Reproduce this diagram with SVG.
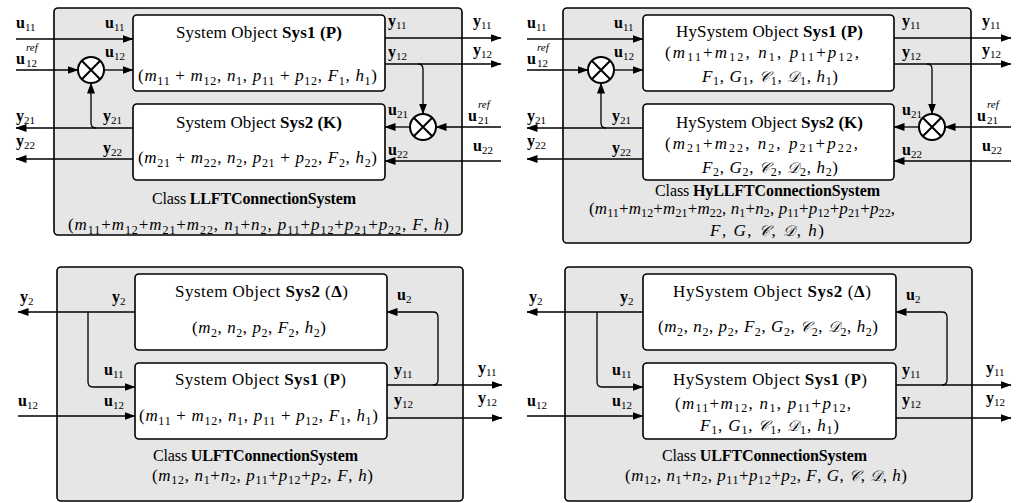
<svg xmlns="http://www.w3.org/2000/svg" width="1019" height="503" viewBox="0 0 1019 503">
<style>
.frame{fill:#e6e6e6;stroke:#000;stroke-width:1.6}
.box{fill:#fff;stroke:#000;stroke-width:1.6}
.ln{fill:none;stroke:#000;stroke-width:1.3}
.arr{marker-end:url(#ah)}
.sum circle{fill:#fff;stroke:#000;stroke-width:2}
.sum path{stroke:#000;stroke-width:2;fill:none}
text{font-family:"Liberation Serif","DejaVu Serif",serif;fill:#000}
.v{font-weight:bold;font-size:16px}
.ls{font-weight:normal;font-size:11px}
.sup{font-style:italic;font-size:11px}
.t{font-size:17px}
.c{font-size:16px}
.b{font-weight:bold}
.f{font-style:italic;font-size:17px}
.r{font-style:normal}
.sb{font-style:normal;font-size:12px}
.cal{font-family:"DejaVu Serif","DejaVu Sans","Liberation Serif",serif;font-size:15px}
</style>
<defs>
<marker id="ah" markerWidth="11" markerHeight="8" refX="10.5" refY="4" orient="auto" markerUnits="userSpaceOnUse"><path d="M0,0 L11,4 L0,8 z" fill="#000"/></marker>
</defs>

<!-- ============ Q1: LLFTConnectionSystem ============ -->
<g id="llft">
<rect class="frame" x="54" y="8" width="408" height="227" rx="4"/>
<text class="c" x="152" y="204" textLength="204" lengthAdjust="spacing">Class <tspan class="b">LLFTConnectionSystem</tspan></text>
<text class="f" x="68" y="230" textLength="381" lengthAdjust="spacing"><tspan class="r">(</tspan>m<tspan class="sb" dy="4">11</tspan><tspan class="r" dy="-4">+</tspan>m<tspan class="sb" dy="4">12</tspan><tspan class="r" dy="-4">+</tspan>m<tspan class="sb" dy="4">21</tspan><tspan class="r" dy="-4">+</tspan>m<tspan class="sb" dy="4">22</tspan><tspan class="r" dy="-4">, </tspan>n<tspan class="sb" dy="4">1</tspan><tspan class="r" dy="-4">+</tspan>n<tspan class="sb" dy="4">2</tspan><tspan class="r" dy="-4">, </tspan>p<tspan class="sb" dy="4">11</tspan><tspan class="r" dy="-4">+</tspan>p<tspan class="sb" dy="4">12</tspan><tspan class="r" dy="-4">+</tspan>p<tspan class="sb" dy="4">21</tspan><tspan class="r" dy="-4">+</tspan>p<tspan class="sb" dy="4">22</tspan><tspan class="r" dy="-4">, </tspan>F<tspan class="r">, </tspan>h<tspan class="r">)</tspan></text>
</g>
<g id="llft-sys1">
<rect class="box" x="133" y="15" width="252" height="76" rx="4"/>
<text class="t" x="176" y="38" textLength="166" lengthAdjust="spacing">System Object <tspan class="b">Sys1 (P)</tspan></text>
<text class="f" x="138" y="81" textLength="239" lengthAdjust="spacing"><tspan class="r">(</tspan>m<tspan class="sb" dy="4">11</tspan><tspan class="r" dy="-4"> + </tspan>m<tspan class="sb" dy="4">12</tspan><tspan class="r" dy="-4">, </tspan>n<tspan class="sb" dy="4">1</tspan><tspan class="r" dy="-4">, </tspan>p<tspan class="sb" dy="4">11</tspan><tspan class="r" dy="-4"> + </tspan>p<tspan class="sb" dy="4">12</tspan><tspan class="r" dy="-4">, </tspan>F<tspan class="sb" dy="4">1</tspan><tspan class="r" dy="-4">, </tspan>h<tspan class="sb" dy="4">1</tspan><tspan class="r" dy="-4">)</tspan></text>
</g>
<g id="llft-sys2">
<rect class="box" x="133" y="104" width="252" height="76" rx="4"/>
<text class="t" x="176" y="128" textLength="166" lengthAdjust="spacing">System Object <tspan class="b">Sys2 (K)</tspan></text>
<text class="f" x="138" y="163" textLength="239" lengthAdjust="spacing"><tspan class="r">(</tspan>m<tspan class="sb" dy="4">21</tspan><tspan class="r" dy="-4"> + </tspan>m<tspan class="sb" dy="4">22</tspan><tspan class="r" dy="-4">, </tspan>n<tspan class="sb" dy="4">2</tspan><tspan class="r" dy="-4">, </tspan>p<tspan class="sb" dy="4">21</tspan><tspan class="r" dy="-4"> + </tspan>p<tspan class="sb" dy="4">22</tspan><tspan class="r" dy="-4">, </tspan>F<tspan class="sb" dy="4">2</tspan><tspan class="r" dy="-4">, </tspan>h<tspan class="sb" dy="4">2</tspan><tspan class="r" dy="-4">)</tspan></text>
</g>
<g id="llft-sum1" class="sum"><circle cx="91" cy="70" r="13"/><path d="M81.8,60.8 L100.2,79.2 M100.2,60.8 L81.8,79.2"/></g>
<g id="llft-sum2" class="sum"><circle cx="423" cy="127" r="13"/><path d="M413.8,117.8 L432.2,136.2 M432.2,117.8 L413.8,136.2"/></g>

<!-- ============ Q2: HyLLFTConnectionSystem ============ -->
<g id="hyllft">
<rect class="frame" x="563" y="8" width="408" height="235" rx="4"/>
<text class="c" x="655" y="196" textLength="225" lengthAdjust="spacing">Class <tspan class="b">HyLLFTConnectionSystem</tspan></text>
<text class="f" x="589" y="214" textLength="306" lengthAdjust="spacing"><tspan class="r">(</tspan>m<tspan class="sb" dy="3">11</tspan><tspan class="r" dy="-3">+</tspan>m<tspan class="sb" dy="3">12</tspan><tspan class="r" dy="-3">+</tspan>m<tspan class="sb" dy="3">21</tspan><tspan class="r" dy="-3">+</tspan>m<tspan class="sb" dy="3">22</tspan><tspan class="r" dy="-3">, </tspan>n<tspan class="sb" dy="3">1</tspan><tspan class="r" dy="-3">+</tspan>n<tspan class="sb" dy="3">2</tspan><tspan class="r" dy="-3">, </tspan>p<tspan class="sb" dy="3">11</tspan><tspan class="r" dy="-3">+</tspan>p<tspan class="sb" dy="3">12</tspan><tspan class="r" dy="-3">+</tspan>p<tspan class="sb" dy="3">21</tspan><tspan class="r" dy="-3">+</tspan>p<tspan class="sb" dy="3">22</tspan><tspan class="r" dy="-3">,</tspan></text>
<text class="f" x="710" y="236" textLength="114" lengthAdjust="spacing">F<tspan class="r">, </tspan>G<tspan class="r">, </tspan><tspan class="cal">𝒞</tspan><tspan class="r">, </tspan><tspan class="cal">𝒟</tspan><tspan class="r">, </tspan>h<tspan class="r">)</tspan></text>
</g>
<g id="hyllft-sys1">
<rect class="box" x="643" y="15" width="251" height="76" rx="4"/>
<text class="t" x="676" y="37" textLength="187" lengthAdjust="spacing">HySystem Object <tspan class="b">Sys1 (P)</tspan></text>
<text class="f" x="665" y="58" textLength="194" lengthAdjust="spacing"><tspan class="r">(</tspan>m<tspan class="sb" dy="3">11</tspan><tspan class="r" dy="-3">+</tspan>m<tspan class="sb" dy="3">12</tspan><tspan class="r" dy="-3">, </tspan>n<tspan class="sb" dy="3">1</tspan><tspan class="r" dy="-3">, </tspan>p<tspan class="sb" dy="3">11</tspan><tspan class="r" dy="-3">+</tspan>p<tspan class="sb" dy="3">12</tspan><tspan class="r" dy="-3">,</tspan></text>
<text class="f" x="702" y="82" textLength="136" lengthAdjust="spacing">F<tspan class="sb" dy="3">1</tspan><tspan class="r" dy="-3">, </tspan>G<tspan class="sb" dy="3">1</tspan><tspan class="r" dy="-3">, </tspan><tspan class="cal">𝒞</tspan><tspan class="sb" dy="3">1</tspan><tspan class="r" dy="-3">, </tspan><tspan class="cal">𝒟</tspan><tspan class="sb" dy="3">1</tspan><tspan class="r" dy="-3">, </tspan>h<tspan class="sb" dy="3">1</tspan><tspan class="r" dy="-3">)</tspan></text>
</g>
<g id="hyllft-sys2">
<rect class="box" x="643" y="104" width="251" height="76" rx="4"/>
<text class="t" x="676" y="128" textLength="187" lengthAdjust="spacing">HySystem Object <tspan class="b">Sys2 (K)</tspan></text>
<text class="f" x="665" y="149" textLength="193" lengthAdjust="spacing"><tspan class="r">(</tspan>m<tspan class="sb" dy="3">21</tspan><tspan class="r" dy="-3">+</tspan>m<tspan class="sb" dy="3">22</tspan><tspan class="r" dy="-3">, </tspan>n<tspan class="sb" dy="3">2</tspan><tspan class="r" dy="-3">, </tspan>p<tspan class="sb" dy="3">21</tspan><tspan class="r" dy="-3">+</tspan>p<tspan class="sb" dy="3">22</tspan><tspan class="r" dy="-3">,</tspan></text>
<text class="f" x="702" y="173" textLength="136" lengthAdjust="spacing">F<tspan class="sb" dy="3">2</tspan><tspan class="r" dy="-3">, </tspan>G<tspan class="sb" dy="3">2</tspan><tspan class="r" dy="-3">, </tspan><tspan class="cal">𝒞</tspan><tspan class="sb" dy="3">2</tspan><tspan class="r" dy="-3">, </tspan><tspan class="cal">𝒟</tspan><tspan class="sb" dy="3">2</tspan><tspan class="r" dy="-3">, </tspan>h<tspan class="sb" dy="3">2</tspan><tspan class="r" dy="-3">)</tspan></text>
</g>
<g id="hyllft-sum1" class="sum"><circle cx="601" cy="70" r="13"/><path d="M591.8,60.8 L610.2,79.2 M610.2,60.8 L591.8,79.2"/></g>
<g id="hyllft-sum2" class="sum"><circle cx="932" cy="127" r="13"/><path d="M922.8,117.8 L941.2,136.2 M941.2,117.8 L922.8,136.2"/></g>

<!-- ============ Q3: ULFTConnectionSystem ============ -->
<g id="ulft">
<rect class="frame" x="57" y="267" width="406" height="234" rx="4"/>
<text class="c" x="153" y="461" textLength="205" lengthAdjust="spacing">Class <tspan class="b">ULFTConnectionSystem</tspan></text>
<text class="f" x="152" y="481" textLength="221" lengthAdjust="spacing"><tspan class="r">(</tspan>m<tspan class="sb" dy="3">12</tspan><tspan class="r" dy="-3">, </tspan>n<tspan class="sb" dy="3">1</tspan><tspan class="r" dy="-3">+</tspan>n<tspan class="sb" dy="3">2</tspan><tspan class="r" dy="-3">, </tspan>p<tspan class="sb" dy="3">11</tspan><tspan class="r" dy="-3">+</tspan>p<tspan class="sb" dy="3">12</tspan><tspan class="r" dy="-3">+</tspan>p<tspan class="sb" dy="3">2</tspan><tspan class="r" dy="-3">, </tspan>F<tspan class="r">, </tspan>h<tspan class="r">)</tspan></text>
</g>
<g id="ulft-sys2">
<rect class="box" x="135" y="274" width="252" height="76" rx="4"/>
<text class="t" x="175" y="297" textLength="173" lengthAdjust="spacing">System Object <tspan class="b">Sys2</tspan>  (<tspan class="b">Δ</tspan>)</text>
<text class="f" x="192" y="333" textLength="134" lengthAdjust="spacing"><tspan class="r">(</tspan>m<tspan class="sb" dy="4">2</tspan><tspan class="r" dy="-4">, </tspan>n<tspan class="sb" dy="4">2</tspan><tspan class="r" dy="-4">, </tspan>p<tspan class="sb" dy="4">2</tspan><tspan class="r" dy="-4">, </tspan>F<tspan class="sb" dy="4">2</tspan><tspan class="r" dy="-4">, </tspan>h<tspan class="sb" dy="4">2</tspan><tspan class="r" dy="-4">)</tspan></text>
</g>
<g id="ulft-sys1">
<rect class="box" x="135" y="363" width="252" height="76" rx="4"/>
<text class="t" x="175" y="385" textLength="171" lengthAdjust="spacing">System Object <tspan class="b">Sys1</tspan>  (<tspan class="b">P</tspan>)</text>
<text class="f" x="139" y="421" textLength="239" lengthAdjust="spacing"><tspan class="r">(</tspan>m<tspan class="sb" dy="4">11</tspan><tspan class="r" dy="-4"> + </tspan>m<tspan class="sb" dy="4">12</tspan><tspan class="r" dy="-4">, </tspan>n<tspan class="sb" dy="4">1</tspan><tspan class="r" dy="-4">, </tspan>p<tspan class="sb" dy="4">11</tspan><tspan class="r" dy="-4"> + </tspan>p<tspan class="sb" dy="4">12</tspan><tspan class="r" dy="-4">, </tspan>F<tspan class="sb" dy="4">1</tspan><tspan class="r" dy="-4">, </tspan>h<tspan class="sb" dy="4">1</tspan><tspan class="r" dy="-4">)</tspan></text>
</g>

<!-- ============ Q4: ULFTConnectionSystem (hybrid) ============ -->
<g id="hyulft">
<rect class="frame" x="565" y="267" width="407" height="234" rx="4"/>
<text class="c" x="662" y="461" textLength="205" lengthAdjust="spacing">Class <tspan class="b">ULFTConnectionSystem</tspan></text>
<text class="f" x="625" y="481" textLength="282" lengthAdjust="spacing"><tspan class="r">(</tspan>m<tspan class="sb" dy="3">12</tspan><tspan class="r" dy="-3">, </tspan>n<tspan class="sb" dy="3">1</tspan><tspan class="r" dy="-3">+</tspan>n<tspan class="sb" dy="3">2</tspan><tspan class="r" dy="-3">, </tspan>p<tspan class="sb" dy="3">11</tspan><tspan class="r" dy="-3">+</tspan>p<tspan class="sb" dy="3">12</tspan><tspan class="r" dy="-3">+</tspan>p<tspan class="sb" dy="3">2</tspan><tspan class="r" dy="-3">, </tspan>F<tspan class="r">, </tspan>G<tspan class="r">, </tspan><tspan class="cal">𝒞</tspan><tspan class="r">, </tspan><tspan class="cal">𝒟</tspan><tspan class="r">, </tspan>h<tspan class="r">)</tspan></text>
</g>
<g id="hyulft-sys2">
<rect class="box" x="643" y="274" width="253" height="76" rx="4"/>
<text class="t" x="673" y="297" textLength="198" lengthAdjust="spacing">HySystem Object <tspan class="b">Sys2</tspan>  (<tspan class="b">Δ</tspan>)</text>
<text class="f" x="658" y="332" textLength="220" lengthAdjust="spacing"><tspan class="r">(</tspan>m<tspan class="sb" dy="4">2</tspan><tspan class="r" dy="-4">, </tspan>n<tspan class="sb" dy="4">2</tspan><tspan class="r" dy="-4">, </tspan>p<tspan class="sb" dy="4">2</tspan><tspan class="r" dy="-4">, </tspan>F<tspan class="sb" dy="4">2</tspan><tspan class="r" dy="-4">, </tspan>G<tspan class="sb" dy="4">2</tspan><tspan class="r" dy="-4">, </tspan><tspan class="cal">𝒞</tspan><tspan class="sb" dy="4">2</tspan><tspan class="r" dy="-4">, </tspan><tspan class="cal">𝒟</tspan><tspan class="sb" dy="4">2</tspan><tspan class="r" dy="-4">, </tspan>h<tspan class="sb" dy="4">2</tspan><tspan class="r" dy="-4">)</tspan></text>
</g>
<g id="hyulft-sys1">
<rect class="box" x="643" y="363" width="253" height="76" rx="4"/>
<text class="t" x="673" y="385" textLength="194" lengthAdjust="spacing">HySystem Object <tspan class="b">Sys1</tspan>  (<tspan class="b">P</tspan>)</text>
<text class="f" x="675" y="409" textLength="176" lengthAdjust="spacing"><tspan class="r">(</tspan>m<tspan class="sb" dy="3">11</tspan><tspan class="r" dy="-3">+</tspan>m<tspan class="sb" dy="3">12</tspan><tspan class="r" dy="-3">, </tspan>n<tspan class="sb" dy="3">1</tspan><tspan class="r" dy="-3">, </tspan>p<tspan class="sb" dy="3">11</tspan><tspan class="r" dy="-3">+</tspan>p<tspan class="sb" dy="3">12</tspan><tspan class="r" dy="-3">,</tspan></text>
<text class="f" x="700" y="431" textLength="139" lengthAdjust="spacing">F<tspan class="sb" dy="3">1</tspan><tspan class="r" dy="-3">, </tspan>G<tspan class="sb" dy="3">1</tspan><tspan class="r" dy="-3">, </tspan><tspan class="cal">𝒞</tspan><tspan class="sb" dy="3">1</tspan><tspan class="r" dy="-3">, </tspan><tspan class="cal">𝒟</tspan><tspan class="sb" dy="3">1</tspan><tspan class="r" dy="-3">, </tspan>h<tspan class="sb" dy="3">1</tspan><tspan class="r" dy="-3">)</tspan></text>
</g>

<!-- ============ Connectors ============ -->
<g id="connectors">
<g class="ln">
<!-- Q1 -->
<path class="arr" d="M16 39 H133"/>
<path class="arr" d="M16 70 H78"/>
<path class="arr" d="M104 70 H133"/>
<path class="arr" d="M133 128 H16"/>
<path class="arr" d="M96 128 Q91 128 91 123 V83"/>
<path class="arr" d="M133 159 H16"/>
<path class="arr" d="M385 38 H501"/>
<path class="arr" d="M385 64 H501"/>
<path class="arr" d="M418 64 Q423 64 423 69 V114"/>
<path class="arr" d="M501 127 H436"/>
<path class="arr" d="M410 127 H385"/>
<path class="arr" d="M501 161 H385"/>
<!-- Q2 -->
<path class="arr" d="M527 39 H643"/>
<path class="arr" d="M527 70 H588"/>
<path class="arr" d="M614 70 H643"/>
<path class="arr" d="M643 128 H527"/>
<path class="arr" d="M606 128 Q601 128 601 123 V83"/>
<path class="arr" d="M643 159 H527"/>
<path class="arr" d="M894 38 H1011"/>
<path class="arr" d="M894 64 H1011"/>
<path class="arr" d="M927 64 Q932 64 932 69 V114"/>
<path class="arr" d="M1011 127 H945"/>
<path class="arr" d="M919 127 H894"/>
<path class="arr" d="M1011 161 H894"/>
<!-- Q3 -->
<path class="arr" d="M135 312 H18"/>
<path class="arr" d="M88 312 V382 Q88 387 93 387 H135"/>
<path class="arr" d="M18 416 H135"/>
<path class="arr" d="M387 385 H502"/>
<path class="arr" d="M433 385 Q438 385 438 380 V317 Q438 312 433 312 H387"/>
<path class="arr" d="M387 418 H502"/>
<!-- Q4 -->
<path class="arr" d="M643 312 H527"/>
<path class="arr" d="M597 312 V382 Q597 387 602 387 H643"/>
<path class="arr" d="M527 416 H643"/>
<path class="arr" d="M896 385 H1011"/>
<path class="arr" d="M942 385 Q947 385 947 380 V317 Q947 312 942 312 H896"/>
<path class="arr" d="M896 418 H1011"/>
</g>
<!-- labels Q1 -->
<text class="v" x="16" y="28">u<tspan class="ls" dy="3">11</tspan></text>
<text class="v" x="105" y="28">u<tspan class="ls" dy="3">11</tspan></text>
<text class="v" x="16" y="64">u</text><text class="sup" x="26" y="51">ref</text><text class="ls" x="26" y="67">12</text>
<text class="v" x="105" y="57">u<tspan class="ls" dy="3">12</tspan></text>
<text class="v" x="16" y="121">y<tspan class="ls" dy="3">21</tspan></text>
<text class="v" x="103" y="121">y<tspan class="ls" dy="3">21</tspan></text>
<text class="v" x="16" y="146">y<tspan class="ls" dy="3">22</tspan></text>
<text class="v" x="103" y="153">y<tspan class="ls" dy="3">22</tspan></text>
<text class="v" x="388" y="26">y<tspan class="ls" dy="3">11</tspan></text>
<text class="v" x="473" y="26">y<tspan class="ls" dy="3">11</tspan></text>
<text class="v" x="388" y="57">y<tspan class="ls" dy="3">12</tspan></text>
<text class="v" x="473" y="55">y<tspan class="ls" dy="3">12</tspan></text>
<text class="v" x="388" y="115">u<tspan class="ls" dy="3">21</tspan></text>
<text class="v" x="468" y="121">u</text><text class="sup" x="478" y="108">ref</text><text class="ls" x="478" y="124">21</text>
<text class="v" x="388" y="155">u<tspan class="ls" dy="3">22</tspan></text>
<text class="v" x="473" y="151">u<tspan class="ls" dy="3">22</tspan></text>
<!-- labels Q2 -->
<text class="v" x="527" y="28">u<tspan class="ls" dy="3">11</tspan></text>
<text class="v" x="614" y="28">u<tspan class="ls" dy="3">11</tspan></text>
<text class="v" x="527" y="64">u</text><text class="sup" x="537" y="51">ref</text><text class="ls" x="537" y="67">12</text>
<text class="v" x="614" y="57">u<tspan class="ls" dy="3">12</tspan></text>
<text class="v" x="527" y="121">y<tspan class="ls" dy="3">21</tspan></text>
<text class="v" x="612" y="121">y<tspan class="ls" dy="3">21</tspan></text>
<text class="v" x="527" y="146">y<tspan class="ls" dy="3">22</tspan></text>
<text class="v" x="612" y="153">y<tspan class="ls" dy="3">22</tspan></text>
<text class="v" x="902" y="26">y<tspan class="ls" dy="3">11</tspan></text>
<text class="v" x="982" y="26">y<tspan class="ls" dy="3">11</tspan></text>
<text class="v" x="902" y="57">y<tspan class="ls" dy="3">12</tspan></text>
<text class="v" x="982" y="55">y<tspan class="ls" dy="3">12</tspan></text>
<text class="v" x="902" y="115">u<tspan class="ls" dy="3">21</tspan></text>
<text class="v" x="977" y="121">u</text><text class="sup" x="987" y="108">ref</text><text class="ls" x="987" y="124">21</text>
<text class="v" x="902" y="155">u<tspan class="ls" dy="3">22</tspan></text>
<text class="v" x="982" y="151">u<tspan class="ls" dy="3">22</tspan></text>
<!-- labels Q3 -->
<text class="v" x="20" y="302">y<tspan class="ls" dy="3">2</tspan></text>
<text class="v" x="112" y="302">y<tspan class="ls" dy="3">2</tspan></text>
<text class="v" x="104" y="375">u<tspan class="ls" dy="3">11</tspan></text>
<text class="v" x="18" y="406">u<tspan class="ls" dy="3">12</tspan></text>
<text class="v" x="104" y="406">u<tspan class="ls" dy="3">12</tspan></text>
<text class="v" x="397" y="300">u<tspan class="ls" dy="3">2</tspan></text>
<text class="v" x="394" y="375">y<tspan class="ls" dy="3">11</tspan></text>
<text class="v" x="478" y="373">y<tspan class="ls" dy="3">11</tspan></text>
<text class="v" x="394" y="405">y<tspan class="ls" dy="3">12</tspan></text>
<text class="v" x="478" y="403">y<tspan class="ls" dy="3">12</tspan></text>
<!-- labels Q4 -->
<text class="v" x="529" y="302">y<tspan class="ls" dy="3">2</tspan></text>
<text class="v" x="620" y="302">y<tspan class="ls" dy="3">2</tspan></text>
<text class="v" x="612" y="375">u<tspan class="ls" dy="3">11</tspan></text>
<text class="v" x="527" y="406">u<tspan class="ls" dy="3">12</tspan></text>
<text class="v" x="612" y="406">u<tspan class="ls" dy="3">12</tspan></text>
<text class="v" x="906" y="300">u<tspan class="ls" dy="3">2</tspan></text>
<text class="v" x="902" y="375">y<tspan class="ls" dy="3">11</tspan></text>
<text class="v" x="986" y="373">y<tspan class="ls" dy="3">11</tspan></text>
<text class="v" x="902" y="405">y<tspan class="ls" dy="3">12</tspan></text>
<text class="v" x="986" y="403">y<tspan class="ls" dy="3">12</tspan></text>
</g>
</svg>
